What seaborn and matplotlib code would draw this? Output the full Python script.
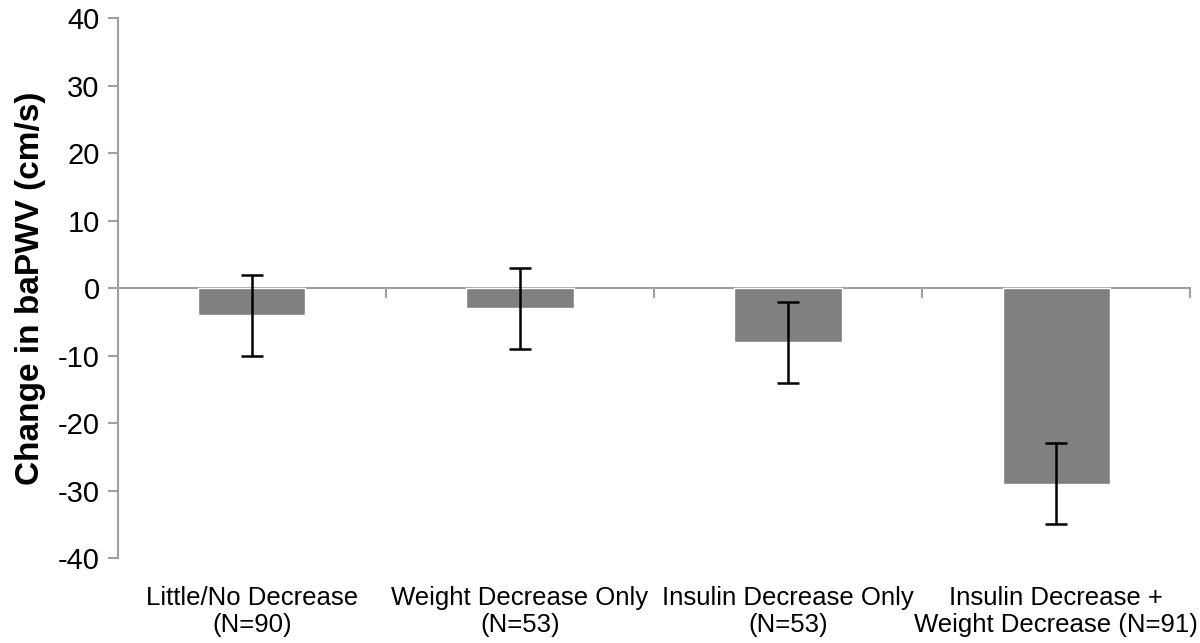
import matplotlib
matplotlib.use("Agg")
import matplotlib.pyplot as plt
import seaborn as sns
import pandas as pd

categories = ["Little/No Decrease\n(N=90)", "Weight Decrease Only\n(N=53)",
              "Insulin Decrease Only\n(N=53)", "Insulin Decrease +\nWeight Decrease (N=91)"]
values = [-4, -3, -8, -29]
errors = [6, 6, 6, 6]
yticks = [-40, -30, -20, -10, 0, 10, 20, 30, 40]

sns.set_style("white")
plt.rcParams['font.family'] = ['Liberation Sans', 'DejaVu Sans']
plt.rcParams['text.color'] = 'black'
plt.rcParams['axes.labelcolor'] = 'black'
plt.rcParams['xtick.labelcolor'] = 'black'
plt.rcParams['ytick.labelcolor'] = 'black'

df = pd.DataFrame({"cat": categories, "val": values})

fig = plt.figure(figsize=(12, 6.43), dpi=100)
ax = fig.add_axes([0.098, 0.132, 0.894, 0.84])

sns.barplot(data=df, x="cat", y="val", color="#808080", saturation=1,
            width=0.4, errorbar=None, ax=ax, zorder=2)
ax.errorbar(range(len(values)), values, yerr=errors, fmt="none",
            ecolor="black", elinewidth=1.8, capsize=8, capthick=1.8, zorder=3)

ax.set_xlim(-0.5, len(values) - 0.5)
ax.set_ylim(-40, 40)
ax.set_yticks(yticks)
ax.set_yticklabels([str(t) for t in yticks], fontsize=21, color="black")

axis_color = "#a0a0a0"
for s in ["top", "right"]:
    ax.spines[s].set_visible(False)
ax.spines["left"].set_color(axis_color)
ax.spines["left"].set_linewidth(1.5)
ax.spines["bottom"].set_position(("data", 0))
ax.spines["bottom"].set_color(axis_color)
ax.spines["bottom"].set_linewidth(1.5)
ax.spines["bottom"].set_zorder(1)

ax.tick_params(axis="y", direction="out", length=7, width=1.5, color=axis_color,
               left=True, pad=6)
# category boundary ticks on zero line
ax.set_xticks([0.5, 1.5, 2.5, 3.5])
ax.set_xticklabels([])
ax.tick_params(axis="x", direction="out", length=7, width=1.5, color=axis_color,
               bottom=True)
ax.set_xlabel("")
ax.set_ylabel("Change in baPWV (cm/s)", fontsize=24, fontweight="bold",
              labelpad=8, color="black")

sec = ax.secondary_xaxis("bottom")
sec.set_xticks(range(len(categories)))
sec.set_xticklabels(categories, fontsize=18.5, linespacing=1.15, color="black")
sec.tick_params(length=0, pad=20)
sec.spines["bottom"].set_visible(False)

fig.savefig("out.png", dpi=100)
